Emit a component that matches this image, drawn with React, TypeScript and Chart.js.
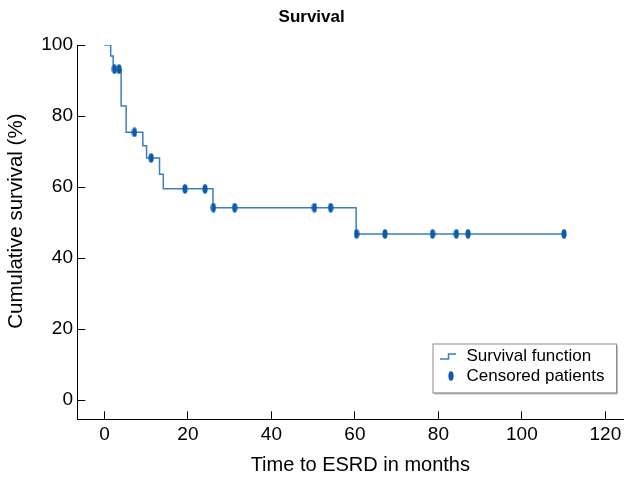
import React, { useEffect, useRef } from "react";
import { Chart, registerables } from "chart.js";

Chart.register(...registerables);

// Kaplan–Meier estimate: event times (months) and survival after each event (%)
const eventMonths = [0, 1.5, 2.1, 4.0, 5.2, 9.2, 10.1, 13.2, 14.1, 26.0, 60.3];
const survivalPct = [100, 96.9, 93.2, 82.8, 75.4, 71.6, 68.2, 63.6, 59.5, 54.2, 46.8];

// Censored follow-up times (months)
const censoredMonths = [
  2.4, 3.5, 7.2, 11.2, 19.3, 24.1, 26.1, 31.2, 50.3, 54.2, 60.4, 67.2, 78.6, 84.3, 87.1, 110.1,
];

const xTickValues = [0, 20, 40, 60, 80, 100, 120];
const yTickValues = [0, 20, 40, 60, 80, 100];

const FONT = "'Liberation Sans', Arial, Helvetica, sans-serif";
const LINE_COLOR = "#3d7ec3";
const MARK_COLOR = "#0c5ba8";

// survival level of the step function at time t
function survivalAt(t: number): number {
  let s = survivalPct[0];
  for (let i = 0; i < eventMonths.length; i++) {
    if (eventMonths[i] <= t) s = survivalPct[i];
  }
  return s;
}

function makeEllipse(w: number, h: number, color: string): HTMLCanvasElement {
  const c = document.createElement("canvas");
  c.width = w;
  c.height = h;
  const ctx = c.getContext("2d")!;
  ctx.fillStyle = color;
  ctx.beginPath();
  ctx.ellipse(w / 2, h / 2, w / 2 - 0.4, h / 2 - 0.3, 0, 0, Math.PI * 2);
  ctx.fill();
  return c;
}

// Axis titles, placed relative to the plot area
const axisTitles = {
  id: "axisTitles",
  afterDraw(chart: any, _args: any, opts: any) {
    const { ctx, chartArea } = chart;
    ctx.save();
    ctx.fillStyle = "#000";
    ctx.textAlign = "center";
    ctx.textBaseline = "middle";

    ctx.font = `${opts.x.size}px ${FONT}`;
    ctx.fillText(
      opts.x.text,
      (chartArea.left + chartArea.right) / 2 + opts.x.dx,
      chartArea.bottom + opts.x.dy
    );

    ctx.translate(opts.y.x, (chartArea.top + chartArea.bottom) / 2 + opts.y.dy);
    ctx.rotate(-Math.PI / 2);
    ctx.font = `${opts.y.size}px ${FONT}`;
    ctx.fillText(opts.y.text, 0, 0);
    ctx.restore();
  },
};

// Boxed legend in the lower right of the plot area
const kmLegend = {
  id: "kmLegend",
  afterDatasetsDraw(chart: any, _args: any, opts: any) {
    const { ctx, chartArea } = chart;
    const w = opts.width;
    const h = opts.height;
    const left = chartArea.right - opts.right - w;
    const top = chartArea.bottom - opts.bottom - h;
    const ds = chart.data.datasets;

    ctx.save();
    // drop shadow
    ctx.fillStyle = "#bdbdbd";
    ctx.fillRect(left + 2, top + 2, w, h);
    ctx.fillStyle = "#ffffff";
    ctx.fillRect(left, top, w, h);
    ctx.strokeStyle = "#8c8c8c";
    ctx.lineWidth = 1;
    ctx.strokeRect(left + 0.5, top + 0.5, w, h);

    // step-line icon
    ctx.strokeStyle = ds[0].borderColor;
    ctx.lineWidth = 1.5;
    ctx.beginPath();
    ctx.moveTo(left + 7.5, top + 15.5);
    ctx.lineTo(left + 16, top + 15.5);
    ctx.lineTo(left + 16, top + 10.5);
    ctx.lineTo(left + 23.5, top + 10.5);
    ctx.stroke();

    // censor mark icon
    const img = ds[1].pointStyle as HTMLCanvasElement;
    ctx.drawImage(img, left + 18.5 - img.width / 2, top + 32.5 - img.height / 2);

    ctx.fillStyle = "#000";
    ctx.font = `17px ${FONT}`;
    ctx.textAlign = "left";
    ctx.textBaseline = "middle";
    ctx.fillText(ds[0].label, left + 34, top + 13);
    ctx.fillText(ds[1].label, left + 34, top + 33);
    ctx.restore();
  },
};

export default function App() {
  const canvasRef = useRef<HTMLCanvasElement | null>(null);

  useEffect(() => {
    if (!canvasRef.current) return;
    const lastT = censoredMonths[censoredMonths.length - 1];
    const curve = eventMonths.map((t, i) => ({ x: t, y: survivalPct[i] }));
    curve.push({ x: lastT, y: survivalAt(lastT) });
    const censored = censoredMonths.map((t) => ({ x: t, y: survivalAt(t) }));
    const marker = makeEllipse(6, 10, MARK_COLOR);

    const chart = new Chart(canvasRef.current, {
      type: "line",
      data: {
        datasets: [
          {
            label: "Survival function",
            data: curve,
            stepped: true,
            borderColor: LINE_COLOR,
            borderWidth: 1.5,
            pointRadius: 0,
            fill: false,
            order: 2,
          },
          {
            type: "scatter",
            label: "Censored patients",
            data: censored,
            pointStyle: marker as any,
            pointRadius: 5,
            showLine: false,
            order: 1,
          } as any,
        ],
      },
      options: {
        animation: false,
        responsive: false,
        devicePixelRatio: 1,
        layout: { padding: { left: 0, top: 0, right: 6.7, bottom: 0 } },
        plugins: {
          legend: { display: false },
          tooltip: { enabled: false },
          title: {
            display: true,
            text: "Survival",
            color: "#000",
            font: { family: FONT, size: 17, weight: "bold", lineHeight: 1.2 },
            padding: { top: 7.3, bottom: 17.3 },
          },
          kmLegend: { width: 183.5, height: 49, right: 7.3, bottom: 26.8 },
          axisTitles: {
            x: { text: "Time to ESRD in months", size: 20, dx: 10, dy: 46 },
            y: { text: "Cumulative survival (%)", size: 20.5, x: 16, dy: -11 },
          },
        } as any,
        scales: {
          x: {
            type: "linear",
            min: -6.5,
            max: 124.3,
            afterBuildTicks: (s: any) => {
              s.ticks = xTickValues.map((v) => ({ value: v }));
            },
            afterFit: (s: any) => {
              s.height = 63.7;
              s.paddingLeft = 0;
              s.paddingRight = 0;
            },
            grid: {
              display: true,
              drawOnChartArea: false,
              drawTicks: true,
              tickLength: -8,
              color: "#000",
              tickColor: "#000",
            },
            border: { display: true, color: "#000", width: 1 },
            ticks: {
              color: "#000",
              font: { family: FONT, size: 19 },
              padding: 12,
              maxRotation: 0,
              autoSkip: false,
            },
          },
          y: {
            type: "linear",
            min: -5.4,
            max: 100,
            afterBuildTicks: (s: any) => {
              s.ticks = yTickValues.map((v) => ({ value: v }));
            },
            afterFit: (s: any) => {
              s.width = 77.3;
              s.paddingTop = 0;
              s.paddingBottom = 0;
            },
            grid: {
              display: true,
              drawOnChartArea: false,
              drawTicks: true,
              tickLength: -8,
              color: "#000",
              tickColor: "#000",
            },
            border: { display: true, color: "#000", width: 1 },
            ticks: {
              color: "#000",
              font: { family: FONT, size: 19 },
              padding: 12.3,
              autoSkip: false,
            },
          },
        },
      } as any,
      plugins: [kmLegend, axisTitles],
    });

    return () => chart.destroy();
  }, []);

  return (
    <div style={{ position: "absolute", left: 0, top: 0, width: 630, height: 483, background: "#fff" }}>
      <canvas ref={canvasRef} width={630} height={483} />
    </div>
  );
}
